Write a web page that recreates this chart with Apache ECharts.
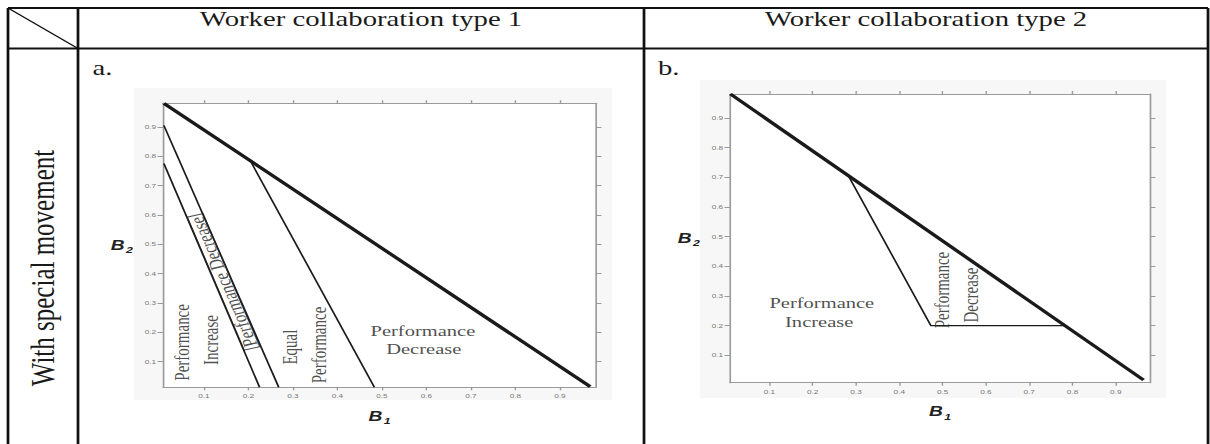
<!DOCTYPE html>
<html>
<head>
<meta charset="utf-8">
<script src="https://cdn.jsdelivr.net/npm/echarts@6/dist/echarts.min.js"></script>
<style>
html,body{margin:0;padding:0;background:#fff;overflow:hidden;width:1210px;height:444px}
#main{width:884px;height:444px;transform:scaleX(1.3688);transform-origin:0 0}
</style>
</head>
<body>
<div id="main"></div>
<script>
// ---- data ----
const columnHeaders = ['Worker collaboration type 1', 'Worker collaboration type 2'];
const rowHeader = 'With special movement';
const panelLetters = ['a.', 'b.'];
const tickValues = [0.1, 0.2, 0.3, 0.4, 0.5, 0.6, 0.7, 0.8, 0.9];
const tickLabels = ['0.1', '0.2', '0.3', '0.4', '0.5', '0.6', '0.7', '0.8', '0.9'];
const axisNames = { x: 'B', xSub: '1', y: 'B', ySub: '2' };
// panel a (type 1)
const frontierA = [[0.01, 0.98], [0.968, 0.015]];
const boundaryA1 = [[0.01, 0.775], [0.225, 0.013]];
const boundaryA2 = [[0.01, 0.905], [0.268, 0.013]];
const boundaryA3 = [[0.204, 0.785], [0.483, 0.013]];
const rangeA = { b1: [0.008, 0.981], b2: [0.013, 0.98] };
const regionLabelsA = [
  { text: 'Performance', b1: 0.051, b2: 0.166, dir: 'up' },
  { text: 'Increase', b1: 0.117, b2: 0.174, dir: 'up' },
  { text: 'Performance Decrease', b1: 0.144, b2: 0.372, dir: 'along' },
  { text: 'Equal', b1: 0.293, b2: 0.15, dir: 'up' },
  { text: 'Performance', b1: 0.359, b2: 0.157, dir: 'up' },
  { text: 'Performance', b1: 0.592, b2: 0.205, dir: 'flat' },
  { text: 'Decrease', b1: 0.594, b2: 0.143, dir: 'flat' }
];
// panel b (type 2)
const frontierB = [[0.01, 0.98], [0.964, 0.017]];
const boundaryB = [[0.283, 0.703], [0.473, 0.2], [0.783, 0.2]];
const rangeB = { b1: [0.009, 0.979], b2: [0.008, 0.98] };
const regionLabelsB = [
  { text: 'Performance', b1: 0.221, b2: 0.277, dir: 'flat' },
  { text: 'Increase', b1: 0.215, b2: 0.211, dir: 'flat' },
  { text: 'Performance', b1: 0.5, b2: 0.32, dir: 'up' },
  { text: 'Decrease', b1: 0.565, b2: 0.303, dir: 'up' }
];

// ---- layout (reference pixels, divided by the horizontal stretch) ----
const SX = 1210 / 884;
const u = v => v / SX;
const SERIF = '"Liberation Serif","Times New Roman",serif';
const SANS = '"Liberation Sans",Arial,sans-serif';
const AX = '#9a9a9a';

const chart = echarts.init(document.getElementById('main'), null, { renderer: 'svg' });

function axisName(main, sub) {
  return {
    name: '{b|' + main + '}{s|' + sub + '}',
    nameTextStyle: {
      rich: {
        b: { fontSize: 14, fontWeight: 'bold', fontStyle: 'italic', fontFamily: SANS, color: '#222' },
        s: { fontSize: 9, fontWeight: 'bold', fontStyle: 'italic', fontFamily: SANS, color: '#222', padding: [9, 0, 0, 1] }
      }
    }
  };
}
const fmt = v => tickLabels[tickValues.indexOf(+(+v).toFixed(1))] || '';
function xAxes(gi, range) {
  const base = {
    type: 'value', gridIndex: gi, min: range[0], max: range[1],
    splitLine: { show: false },
    axisLine: { show: true, onZero: false, lineStyle: { color: AX, width: 1.2 } },
    axisTick: { show: true, customValues: tickValues, length: 3, lineStyle: { color: AX, width: 1 } }
  };
  return [
    Object.assign({}, base, axisName(axisNames.x, axisNames.xSub), {
      position: 'bottom', nameLocation: 'middle', nameGap: 20,
      axisLabel: { customValues: tickValues, formatter: fmt, fontSize: 6, color: '#777', margin: 6, fontFamily: SANS }
    }),
    Object.assign({}, base, { position: 'top', axisLabel: { show: false } })
  ];
}
function yAxes(gi, range) {
  const base = {
    type: 'value', gridIndex: gi, min: range[0], max: range[1],
    splitLine: { show: false },
    axisLine: { show: true, onZero: false, lineStyle: { color: AX, width: 1.2 } },
    axisTick: { show: true, customValues: tickValues, length: 4, lineStyle: { color: AX, width: 1 } }
  };
  return [
    Object.assign({}, base, axisName(axisNames.y, axisNames.ySub), {
      position: 'left', nameLocation: 'middle', nameRotate: 0, nameGap: 22,
      axisLabel: { customValues: tickValues, formatter: fmt, fontSize: 6, color: '#777', margin: 5, fontFamily: SANS }
    }),
    Object.assign({}, base, { position: 'right', axisLabel: { show: false } })
  ];
}
function lineSeries(data, xi, yi, width) {
  return {
    type: 'line', xAxisIndex: xi, yAxisIndex: yi, data: data, symbol: 'none', silent: true,
    lineStyle: { color: '#1a1a1a', width: width }, animation: false, z: 3
  };
}

const L = 8, C1 = 78, C2 = 644, R = 1208, T = 8, H = 48.5, BOT = 450;
const graphics = [
  { type: 'rect', z: -10, shape: { x: u(134), y: 88, width: u(612) - u(134), height: 312 }, style: { fill: '#f7f7f7' } },
  { type: 'rect', z: -9, shape: { x: u(163), y: 103.3, width: u(596) - u(163), height: 284 }, style: { fill: '#ffffff' } },
  { type: 'rect', z: -10, shape: { x: u(700), y: 80, width: u(1166) - u(700), height: 318 }, style: { fill: '#f7f7f7' } },
  { type: 'rect', z: -9, shape: { x: u(730), y: 94, width: u(1150) - u(730), height: 288.7 }, style: { fill: '#ffffff' } },
  { type: 'line', shape: { x1: u(L), y1: T, x2: u(R), y2: T }, style: { stroke: '#111', lineWidth: 2.2 } },
  { type: 'line', shape: { x1: u(L), y1: H, x2: u(R), y2: H }, style: { stroke: '#111', lineWidth: 2.2 } },
  { type: 'line', shape: { x1: u(L), y1: T, x2: u(L), y2: BOT }, style: { stroke: '#111', lineWidth: 2 } },
  { type: 'line', shape: { x1: u(C1), y1: T, x2: u(C1), y2: BOT }, style: { stroke: '#111', lineWidth: 2 } },
  { type: 'line', shape: { x1: u(C2), y1: T, x2: u(C2), y2: BOT }, style: { stroke: '#111', lineWidth: 2 } },
  { type: 'line', shape: { x1: u(R), y1: T, x2: u(R), y2: BOT }, style: { stroke: '#111', lineWidth: 2 } },
  { type: 'line', shape: { x1: u(L), y1: T, x2: u(C1), y2: H }, style: { stroke: '#111', lineWidth: 1 } },
  { type: 'text', x: u((C1 + C2) / 2), y: 29, style: { text: columnHeaders[0], font: '21px ' + SERIF, fill: '#1a1a1a', textAlign: 'center', textVerticalAlign: 'bottom' } },
  { type: 'text', x: u((C2 + R) / 2), y: 29, style: { text: columnHeaders[1], font: '21px ' + SERIF, fill: '#1a1a1a', textAlign: 'center', textVerticalAlign: 'bottom' } },
  { type: 'text', x: u(C1 + 14.5), y: 78, style: { text: panelLetters[0], font: '21px ' + SERIF, fill: '#1a1a1a', textAlign: 'left', textVerticalAlign: 'bottom' } },
  { type: 'text', x: u(C2 + 14), y: 78, style: { text: panelLetters[1], font: '21px ' + SERIF, fill: '#1a1a1a', textAlign: 'left', textVerticalAlign: 'bottom' } },
  { type: 'text', x: u(42), y: 268, rotation: Math.PI / 2, style: { text: rowHeader, font: '25px ' + SERIF, fill: '#1a1a1a', textAlign: 'center', textVerticalAlign: 'middle' } }
];

const xa = xAxes(0, rangeA.b1).concat(xAxes(1, rangeB.b1));
const ya = yAxes(0, rangeA.b2).concat(yAxes(1, rangeB.b2));

const option = {
  animation: false,
  backgroundColor: '#ffffff',
  grid: [
    { left: u(163), top: 103.3, width: u(596) - u(163), height: 284 },
    { left: u(730), top: 94, width: u(1150) - u(730), height: 288.7 }
  ],
  xAxis: xa,
  yAxis: ya,
  series: [
    lineSeries(frontierA, 0, 0, 3),
    lineSeries(boundaryA1, 0, 0, 1.3),
    lineSeries(boundaryA2, 0, 0, 1.3),
    lineSeries(boundaryA3, 0, 0, 1.3),
    lineSeries(frontierB, 2, 2, 3),
    lineSeries(boundaryB, 2, 2, 1.3)
  ],
  graphic: graphics
};
chart.setOption(option);

// tilt of the strip label follows the boundary lines
const p1 = chart.convertToPixel({ gridIndex: 0 }, boundaryA1[0]);
const p2 = chart.convertToPixel({ gridIndex: 0 }, boundaryA1[1]);
const tilt = Math.atan2(p2[1] - p1[1], p1[0] - p2[0]) * 180 / Math.PI;

function labelSeries(items, xi, yi) {
  return {
    type: 'scatter', xAxisIndex: xi, yAxisIndex: yi, symbolSize: 1, silent: true, z: 4,
    itemStyle: { color: 'rgba(0,0,0,0)' },
    data: items.map(d => {
      const lab = {
        rotate: d.dir === 'up' ? 90 : (d.dir === 'along' ? tilt : 0),
        fontFamily: SERIF, fontSize: 15, color: '#1e1e1e'
      };
      if (d.dir === 'along') { lab.borderColor = '#222'; lab.borderWidth = 1; lab.padding = [0, 2, 0, 2]; lab.lineHeight = 12; }
      return { name: d.text, value: [d.b1, d.b2], label: lab };
    }),
    label: { show: true, position: 'inside', formatter: '{b}', fontFamily: SERIF, fontSize: 15, color: '#1e1e1e' },
    emphasis: { disabled: true }
  };
}
option.series.push(labelSeries(regionLabelsA, 0, 0));
option.series.push(labelSeries(regionLabelsB, 2, 2));
chart.setOption(option);
</script>
</body>
</html>
